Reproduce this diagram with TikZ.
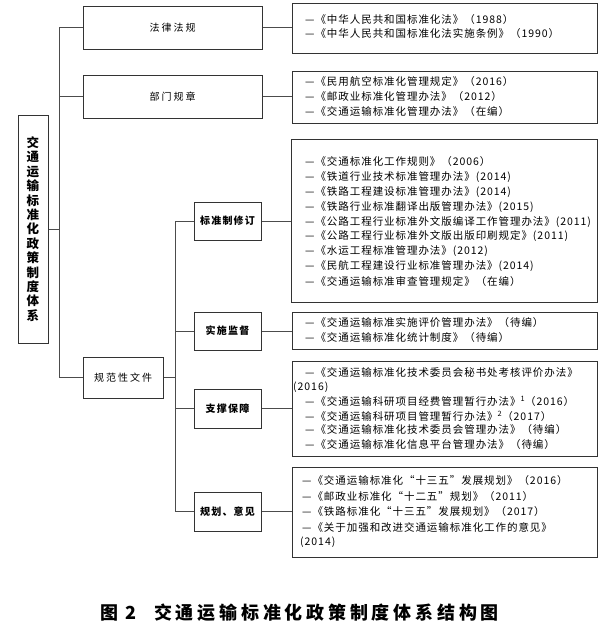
\documentclass[tikz,border=0pt]{standalone}
\usepackage{fontspec}
\setmainfont{Noto Sans CJK SC}
\newfontfamily\lstfont[LetterSpace=9]{Noto Sans CJK SC}
\newfontfamily\lblfont[LetterSpace=20]{Noto Sans CJK SC}
\newfontfamily\subfont[LetterSpace=12]{Noto Sans CJK SC}
\newfontfamily\capfont[LetterSpace=21]{Noto Sans CJK SC}
\begin{document}
\begin{tikzpicture}[x=1pt,y=-1pt,
  box/.style={draw=black!80, line width=1pt, inner sep=0pt},
  conn/.style={draw=black!70, line width=1pt},
  item/.style={anchor=west, inner sep=0pt, font=\lstfont\fontsize{10.5}{12}\selectfont},
  lbl/.style={font=\lblfont\fontsize{10}{12}\selectfont},
  sublbl/.style={font=\subfont\bfseries\fontsize{10}{12}\selectfont},
]
\useasboundingbox (0,0) rectangle (608,635);
% category boxes
\node[box, minimum width=30pt, minimum height=228pt, align=center,
      font=\bfseries\fontsize{12.5}{14.4}\selectfont] (main) at (33,229)
  {交\\通\\运\\输\\标\\准\\化\\政\\策\\制\\度\\体\\系};
\node[box, lbl, minimum width=179pt, minimum height=43pt] (law) at (172.5,27.5) {法律法规};
\node[box, lbl, minimum width=179pt, minimum height=43pt] (dept) at (172.5,96.5) {部门规章};
\node[box, lbl, minimum width=80pt, minimum height=41pt] (norm) at (123,377.5) {规范性文件};
\node[box, sublbl, minimum width=67pt, minimum height=38pt] (s1) at (227.5,221) {标准制修订};
\node[box, sublbl, minimum width=67pt, minimum height=38pt] (s2) at (227.5,331) {实施监督};
\node[box, sublbl, minimum width=67pt, minimum height=39pt] (s3) at (227.5,408.5) {支撑保障};
\node[box, sublbl, minimum width=67pt, minimum height=39pt] (s4) at (227.5,511.5) {规划、意见};
% list boxes
\node[box, minimum width=305pt, minimum height=50pt] (r1) at (444.5,28) {};
\node[box, minimum width=305pt, minimum height=52pt] (r2) at (444.5,97) {};
\node[box, minimum width=306pt, minimum height=163pt] (r3) at (444,220.5) {};
\node[box, minimum width=305pt, minimum height=37pt] (r4) at (444.5,330.5) {};
\node[box, minimum width=305pt, minimum height=95pt] (r5) at (444.5,408.5) {};
\node[box, minimum width=305pt, minimum height=90pt] (r6) at (444.5,512) {};
% connectors
\coordinate (tk) at (59,0);
\coordinate (st) at (175,0);
\draw[conn] (law.west) -- (law.west -| tk) -- (norm.west -| tk) -- (norm.west);
\draw[conn] (dept.west) -- (dept.west -| tk);
\draw[conn] (main.east) -- (main.east -| tk);
\draw[conn] (law.east) -- (law.east -| r1.west);
\draw[conn] (dept.east) -- (dept.east -| r2.west);
\draw[conn] (norm.east) -- (norm.east -| st);
\draw[conn] (s1.west) -- (s1.west -| st) -- (s4.west -| st) -- (s4.west);
\draw[conn] (s2.west) -- (s2.west -| st);
\draw[conn] (s3.west) -- (s3.west -| st);
\draw[conn] (s1.east) -- (s1.east -| r3.west);
\draw[conn] (s2.east) -- (s2.east -| r4.west);
\draw[conn] (s3.east) -- (s3.east -| r5.west);
\draw[conn] (s4.east) -- (s4.east -| r6.west);
% box 1
\node[item] (a1) at (305,20) {—《中华人民共和国标准化法》（1988）};
\node[item] (a2) at (305,34) {—《中华人民共和国标准化法实施条例》（1990）};
% box 2
\node[item] (b1) at (305,82) {—《民用航空标准化管理规定》（2016）};
\node[item] (b2) at (305,97) {—《邮政业标准化管理办法》（2012）};
\node[item] (b3) at (305,112) {—《交通运输标准化管理办法》（在编）};
% box 3
\node[item] (c1) at (305,162) {—《交通标准化工作规则》（2006）};
\node[item] (c2) at (305,176.9) {—《铁道行业技术标准管理办法》(2014)};
\node[item] (c3) at (305,191.8) {—《铁路工程建设标准管理办法》(2014)};
\node[item] (c4) at (305,206.7) {—《铁路行业标准翻译出版管理办法》(2015)};
\node[item] (c5) at (305,221.6) {—《公路工程行业标准外文版编译工作管理办法》(2011)};
\node[item] (c6) at (305,236.5) {—《公路工程行业标准外文版出版印刷规定》(2011)};
\node[item] (c7) at (305,251.4) {—《水运工程标准管理办法》(2012)};
\node[item] (c8) at (305,266.3) {—《民航工程建设行业标准管理办法》(2014)};
\node[item] (c9) at (305,281.2) {—《交通运输标准审查管理规定》（在编）};
% box 4
\node[item] (d1) at (305,323) {—《交通运输标准实施评价管理办法》（待编）};
\node[item] (d2) at (305,338) {—《交通运输标准化统计制度》（待编）};
% box 5
\node[item] (e1) at (305,372) {—《交通运输标准化技术委员会秘书处考核评价办法》};
\node[item] (e1b) at (293,387) {(2016)};
\node[item] (e2) at (305,401) {—《交通运输科研项目经费管理暂行办法》\textsuperscript{1}（2016）};
\node[item] (e3) at (305,416) {—《交通运输科研项目管理暂行办法》\textsuperscript{2}（2017）};
\node[item] (e4) at (305,430) {—《交通运输标准化技术委员会管理办法》（待编）};
\node[item] (e5) at (305,445) {—《交通运输标准化信息平台管理办法》（待编）};
% box 6
\node[item] (f1) at (302,481) {—《交通运输标准化“十三五”发展规划》（2016）};
\node[item] (f2) at (302,497) {—《邮政业标准化“十二五”规划》（2011）};
\node[item] (f3) at (302,512) {—《铁路标准化“十三五”发展规划》（2017）};
\node[item] (f4) at (302,527) {—《关于加强和改进交通运输标准化工作的意见》};
\node[item] (f4b) at (300,542) {(2014)};
% caption
\node[font=\capfont\bfseries\fontsize{18}{20}\selectfont, anchor=west, inner sep=0pt] (cap) at (100,613)
  {图\hspace{7pt}2\hspace{18pt}交通运输标准化政策制度体系结构图};
\end{tikzpicture}
\end{document}
